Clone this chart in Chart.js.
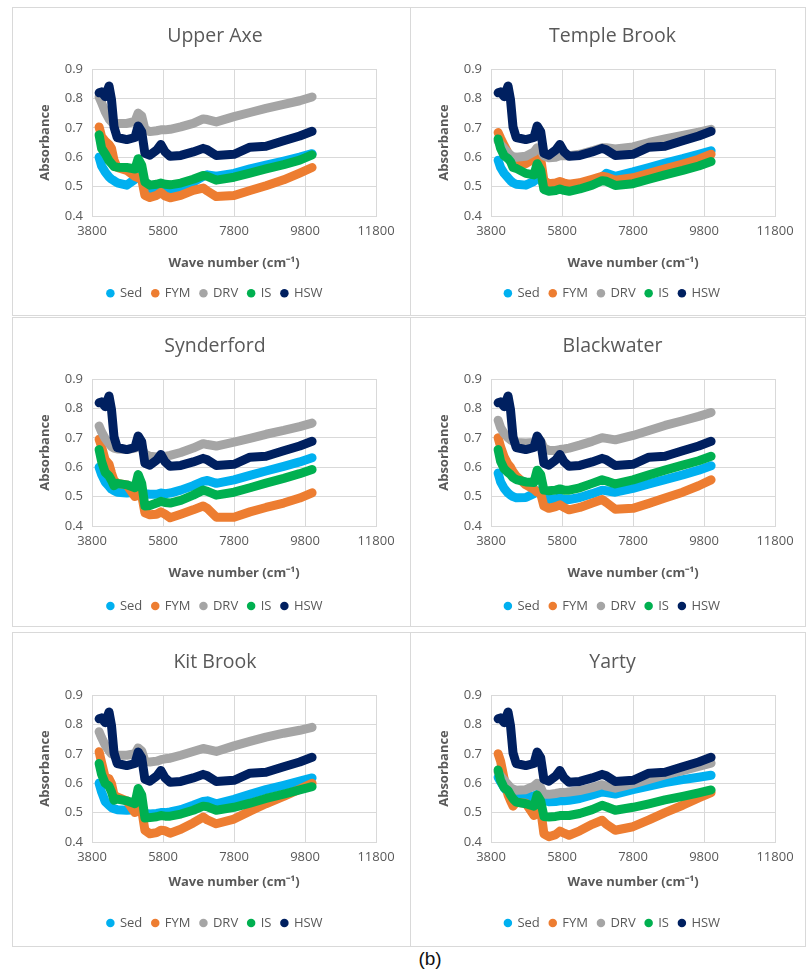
<!DOCTYPE html>
<html><head><meta charset="utf-8">
<script src="https://cdn.jsdelivr.net/npm/chart.js@4.4.0/dist/chart.umd.min.js"></script>
<style>
html,body{margin:0;padding:0;background:#fff;}
body{width:806px;height:975px;position:relative;overflow:hidden;}
.box{position:absolute;border:1px solid #d9d9d9;box-sizing:border-box;}
canvas{position:absolute;}
#cap{position:absolute;left:400px;top:948px;width:60px;text-align:center;font-family:"Liberation Sans",Arial,sans-serif;font-size:19px;color:#111;}
</style></head><body>
<div class="box" style="left:12px;top:7px;width:399px;height:309px"></div>
<div class="box" style="left:410px;top:7px;width:396px;height:309px"></div>
<div class="box" style="left:12px;top:317px;width:399px;height:310px"></div>
<div class="box" style="left:410px;top:317px;width:396px;height:310px"></div>
<div class="box" style="left:12px;top:632px;width:399px;height:315px"></div>
<div class="box" style="left:410px;top:632px;width:396px;height:315px"></div>
<canvas id="c0"></canvas><canvas id="c1"></canvas><canvas id="c2"></canvas>
<canvas id="c3"></canvas><canvas id="c4"></canvas><canvas id="c5"></canvas>
<div id="cap">(b)</div>
<script>
// ---------- DATA ----------
const siteNames = ['Upper Axe', 'Temple Brook', 'Synderford', 'Blackwater', 'Kit Brook', 'Yarty'];
const seriesNames = ['Sed', 'FYM', 'DRV', 'IS', 'HSW'];
const xTickValues = [3800, 5800, 7800, 9800, 11800];
const yTickValues = [0.4, 0.5, 0.6, 0.7, 0.8, 0.9];
const waveNumbers = [4000, 4070, 4170, 4280, 4350, 4420, 4510, 4780, 5010, 5100, 5200, 5290, 5430, 5620, 5740, 5860, 6000, 6300, 6650, 6930, 7050, 7300, 7800, 8250, 8700, 9200, 9650, 10000];

const hsw = [0.819, 0.822, 0.806, 0.842, 0.795, 0.703, 0.667, 0.660, 0.667, 0.706, 0.687, 0.613, 0.607, 0.624, 0.643, 0.618, 0.603, 0.606, 0.618, 0.630, 0.625, 0.606, 0.610, 0.634, 0.637, 0.656, 0.672, 0.688];

const upperAxeSed = [0.60, 0.57, 0.55, 0.533, 0.525, 0.52, 0.513, 0.505, 0.525, 0.54, 0.53, 0.495, 0.49, 0.49, 0.495, 0.49, 0.488, 0.50, 0.515, 0.535, 0.54, 0.535, 0.545, 0.56, 0.573, 0.587, 0.60, 0.612];
const upperAxeFym = [0.703, 0.67, 0.655, 0.643, 0.63, 0.59, 0.565, 0.555, 0.535, 0.53, 0.525, 0.47, 0.463, 0.47, 0.48, 0.468, 0.462, 0.47, 0.487, 0.495, 0.485, 0.466, 0.47, 0.487, 0.503, 0.523, 0.546, 0.565];
const upperAxeDrv = [0.805, 0.785, 0.755, 0.73, 0.72, 0.716, 0.715, 0.715, 0.722, 0.75, 0.74, 0.695, 0.687, 0.69, 0.693, 0.693, 0.695, 0.703, 0.715, 0.73, 0.728, 0.72, 0.738, 0.752, 0.766, 0.78, 0.792, 0.805];
const upperAxeIs = [0.676, 0.63, 0.612, 0.588, 0.578, 0.568, 0.566, 0.565, 0.56, 0.595, 0.573, 0.516, 0.505, 0.508, 0.512, 0.508, 0.506, 0.512, 0.525, 0.538, 0.535, 0.522, 0.532, 0.546, 0.56, 0.575, 0.59, 0.608];

const templeSed = [0.59, 0.565, 0.545, 0.53, 0.52, 0.513, 0.508, 0.505, 0.518, 0.53, 0.525, 0.505, 0.5, 0.5, 0.505, 0.5, 0.5, 0.508, 0.52, 0.532, 0.545, 0.535, 0.55, 0.565, 0.58, 0.595, 0.61, 0.622];
const templeFym = [0.684, 0.665, 0.64, 0.615, 0.6, 0.59, 0.583, 0.578, 0.595, 0.60, 0.595, 0.52, 0.51, 0.512, 0.517, 0.512, 0.508, 0.513, 0.525, 0.535, 0.533, 0.522, 0.53, 0.545, 0.56, 0.577, 0.593, 0.61];
const templeDrv = [0.655, 0.643, 0.63, 0.615, 0.607, 0.602, 0.60, 0.603, 0.618, 0.632, 0.625, 0.605, 0.598, 0.60, 0.605, 0.605, 0.605, 0.61, 0.622, 0.632, 0.632, 0.628, 0.635, 0.65, 0.662, 0.674, 0.685, 0.695];
const templeIs = [0.662, 0.63, 0.605, 0.595, 0.585, 0.565, 0.562, 0.545, 0.54, 0.578, 0.555, 0.49, 0.484, 0.487, 0.492, 0.487, 0.484, 0.492, 0.505, 0.52, 0.518, 0.504, 0.51, 0.525, 0.54, 0.555, 0.57, 0.585];

const synderSed = [0.60, 0.575, 0.55, 0.535, 0.525, 0.52, 0.515, 0.512, 0.515, 0.525, 0.52, 0.51, 0.508, 0.508, 0.512, 0.51, 0.512, 0.522, 0.537, 0.552, 0.555, 0.545, 0.557, 0.572, 0.587, 0.603, 0.618, 0.632];
const synderFym = [0.695, 0.67, 0.625, 0.61, 0.58, 0.555, 0.545, 0.54, 0.50, 0.51, 0.505, 0.445, 0.438, 0.44, 0.448, 0.44, 0.428, 0.44, 0.455, 0.468, 0.46, 0.43, 0.43, 0.448, 0.463, 0.478, 0.495, 0.513];
const synderDrv = [0.74, 0.72, 0.698, 0.68, 0.67, 0.665, 0.662, 0.66, 0.665, 0.675, 0.665, 0.645, 0.637, 0.635, 0.637, 0.637, 0.64, 0.65, 0.665, 0.68, 0.677, 0.672, 0.685, 0.698, 0.712, 0.725, 0.738, 0.75];
const synderIs = [0.66, 0.62, 0.583, 0.57, 0.555, 0.537, 0.545, 0.54, 0.53, 0.575, 0.545, 0.468, 0.47, 0.478, 0.484, 0.48, 0.478, 0.487, 0.505, 0.522, 0.518, 0.505, 0.515, 0.53, 0.546, 0.562, 0.578, 0.592];

const blackSed = [0.58, 0.55, 0.528, 0.512, 0.505, 0.50, 0.496, 0.497, 0.51, 0.52, 0.515, 0.49, 0.49, 0.493, 0.495, 0.49, 0.49, 0.497, 0.51, 0.522, 0.52, 0.515, 0.528, 0.543, 0.558, 0.574, 0.59, 0.605];
const blackFym = [0.70, 0.67, 0.635, 0.61, 0.60, 0.585, 0.57, 0.54, 0.525, 0.515, 0.51, 0.468, 0.46, 0.466, 0.472, 0.463, 0.455, 0.463, 0.478, 0.49, 0.48, 0.457, 0.46, 0.477, 0.495, 0.515, 0.537, 0.557];
const blackDrv = [0.76, 0.735, 0.715, 0.70, 0.693, 0.688, 0.684, 0.682, 0.684, 0.695, 0.69, 0.665, 0.657, 0.657, 0.66, 0.662, 0.665, 0.675, 0.688, 0.70, 0.698, 0.693, 0.708, 0.725, 0.742, 0.758, 0.773, 0.786];
const blackIs = [0.66, 0.62, 0.595, 0.582, 0.575, 0.565, 0.558, 0.55, 0.548, 0.59, 0.575, 0.522, 0.52, 0.522, 0.526, 0.522, 0.522, 0.53, 0.545, 0.557, 0.553, 0.543, 0.557, 0.574, 0.59, 0.607, 0.622, 0.637];

const kitSed = [0.60, 0.57, 0.538, 0.525, 0.517, 0.513, 0.51, 0.508, 0.51, 0.52, 0.515, 0.497, 0.495, 0.497, 0.5, 0.5, 0.502, 0.51, 0.525, 0.538, 0.54, 0.53, 0.545, 0.562, 0.578, 0.593, 0.607, 0.618];
const kitFym = [0.707, 0.67, 0.62, 0.615, 0.598, 0.56, 0.553, 0.54, 0.50, 0.515, 0.51, 0.44, 0.428, 0.432, 0.44, 0.438, 0.43, 0.443, 0.465, 0.485, 0.475, 0.462, 0.478, 0.505, 0.53, 0.555, 0.58, 0.60];
const kitDrv = [0.775, 0.755, 0.73, 0.71, 0.70, 0.697, 0.695, 0.695, 0.70, 0.72, 0.71, 0.675, 0.672, 0.675, 0.68, 0.683, 0.685, 0.695, 0.708, 0.718, 0.715, 0.708, 0.727, 0.742, 0.757, 0.77, 0.78, 0.79];
const kitIs = [0.667, 0.63, 0.60, 0.59, 0.57, 0.542, 0.546, 0.54, 0.53, 0.582, 0.56, 0.482, 0.483, 0.486, 0.49, 0.488, 0.488, 0.495, 0.508, 0.522, 0.52, 0.508, 0.518, 0.532, 0.548, 0.563, 0.577, 0.588];

const yartySed = [0.62, 0.605, 0.585, 0.568, 0.56, 0.556, 0.553, 0.553, 0.557, 0.562, 0.555, 0.542, 0.537, 0.538, 0.54, 0.54, 0.542, 0.548, 0.56, 0.57, 0.568, 0.563, 0.578, 0.59, 0.602, 0.612, 0.62, 0.627];
const yartyFym = [0.70, 0.675, 0.615, 0.56, 0.54, 0.522, 0.535, 0.532, 0.49, 0.51, 0.51, 0.428, 0.418, 0.425, 0.437, 0.43, 0.423, 0.438, 0.46, 0.474, 0.46, 0.44, 0.452, 0.475, 0.5, 0.525, 0.55, 0.568];
const yartyDrv = [0.638, 0.625, 0.61, 0.595, 0.585, 0.58, 0.576, 0.578, 0.59, 0.60, 0.585, 0.562, 0.562, 0.565, 0.568, 0.568, 0.57, 0.575, 0.585, 0.595, 0.59, 0.583, 0.598, 0.613, 0.628, 0.643, 0.657, 0.668];
const yartyIs = [0.645, 0.61, 0.585, 0.575, 0.56, 0.547, 0.536, 0.53, 0.522, 0.56, 0.54, 0.487, 0.485, 0.487, 0.49, 0.49, 0.49, 0.497, 0.51, 0.525, 0.52, 0.508, 0.518, 0.53, 0.543, 0.555, 0.567, 0.577];

const panelSeries = [
  [upperAxeSed, upperAxeFym, upperAxeDrv, upperAxeIs, hsw],
  [templeSed, templeFym, templeDrv, templeIs, hsw],
  [synderSed, synderFym, synderDrv, synderIs, hsw],
  [blackSed, blackFym, blackDrv, blackIs, hsw],
  [kitSed, kitFym, kitDrv, kitIs, hsw],
  [yartySed, yartyFym, yartyDrv, yartyIs, hsw]
];

// ---------- STYLE / LAYOUT ----------
const seriesColors = ['#00b0f0', '#ed7d31', '#a5a5a5', '#00b050', '#002060'];
const FONT = "'Open Sans', 'Liberation Sans', sans-serif";
const TXT = '#595959';
const GRID = '#d9d9d9';
const PLOT_TOP = 62, PLOT_BOTTOM = 209;
const rows = [
  {top: 7, h: 308, legendPad: 5.2, xTitlePad: 5.7},
  {top: 317, h: 310, legendPad: 4.5, xTitlePad: 8.7},
  {top: 633, h: 314, legendPad: 7.5, xTitlePad: 16.5}
];
const cols = [{left: 12, w: 398}, {left: 411, w: 395}];

Chart.defaults.font.family = FONT;

function makePanel(idx) {
  const row = rows[Math.floor(idx / 2)], col = cols[idx % 2];
  const cv = document.getElementById('c' + idx);
  cv.width = col.w; cv.height = row.h;
  cv.style.left = col.left + 'px'; cv.style.top = row.top + 'px';
  cv.style.width = col.w + 'px'; cv.style.height = row.h + 'px';
  const rightGap = col.w - 364;
  const series = panelSeries[idx];
  const titleLH = 19.5 * 1.2;
  new Chart(cv, {
    type: 'scatter',
    data: {
      datasets: seriesNames.map((name, i) => ({
        label: name,
        data: waveNumbers.map((x, j) => ({x: x, y: series[i][j]})),
        showLine: true,
        borderColor: seriesColors[i],
        backgroundColor: seriesColors[i],
        borderWidth: 9,
        borderJoinStyle: 'round',
        borderCapStyle: 'round',
        pointRadius: 0,
        pointHoverRadius: 0,
        tension: 0,
        order: 4 - i
      }))
    },
    options: {
      responsive: false,
      animation: false,
      devicePixelRatio: 1,
      layout: {padding: {left: 8, right: 0, top: 0, bottom: row.legendPad}},
      plugins: {
        title: {
          display: true, text: siteNames[idx], color: TXT,
          font: {family: FONT, size: 19.5, weight: 'normal'},
          padding: {top: 29 - titleLH / 2, bottom: PLOT_TOP - 29 - titleLH / 2}
        },
        legend: {
          display: true, position: 'bottom', align: 'center',
          labels: {
            usePointStyle: true, boxWidth: 6, boxHeight: 6, padding: 10,
            color: TXT, font: {family: FONT, size: 13},
            generateLabels: (chart) => chart.data.datasets.map((ds, i) => ({
              text: ds.label, fillStyle: ds.borderColor, strokeStyle: ds.borderColor,
              lineWidth: 0, pointStyle: 'circle', hidden: false, datasetIndex: i, fontColor: TXT
            }))
          }
        },
        tooltip: {enabled: false}
      },
      scales: {
        x: {
          type: 'linear', position: 'bottom', min: 3800, max: 11800,
          afterBuildTicks: (s) => { s.ticks = xTickValues.map(v => ({value: v})); },
          ticks: {color: TXT, font: {family: FONT, size: 13}, padding: 7, maxRotation: 0, callback: (v) => String(v)},
          grid: {color: GRID, lineWidth: 1, drawTicks: false},
          border: {color: GRID, width: 1},
          title: {display: true, text: 'Wave number (cm\u207B\u00B9)', color: TXT,
                  font: {family: FONT, size: 13, weight: 'bold'}, padding: {top: 0, bottom: row.xTitlePad}},
          afterFit: (s) => { s.height = s.chart.height - PLOT_BOTTOM - s.chart.legend.height - row.legendPad; }
        },
        y: {
          type: 'linear', position: 'left', min: 0.4, max: 0.9,
          afterBuildTicks: (s) => { s.ticks = yTickValues.map(v => ({value: v})); },
          ticks: {color: TXT, font: {family: FONT, size: 13}, padding: 9, callback: (v) => Number(v).toFixed(1)},
          grid: {color: GRID, lineWidth: 1, drawTicks: false},
          border: {color: GRID, width: 1},
          title: {display: true, text: 'Absorbance', color: TXT,
                  font: {family: FONT, size: 13, weight: 'bold'}, padding: {top: 25 - 7.8, bottom: 0}},
          afterFit: (s) => { s.width = 72; }
        },
        yRightGap: {
          type: 'linear', position: 'right', display: true,
          ticks: {display: false}, grid: {display: false}, border: {display: false},
          afterFit: (s) => { s.width = rightGap; }
        }
      }
    }
  });
}
for (let i = 0; i < 6; i++) makePanel(i);
</script>
</body></html>
